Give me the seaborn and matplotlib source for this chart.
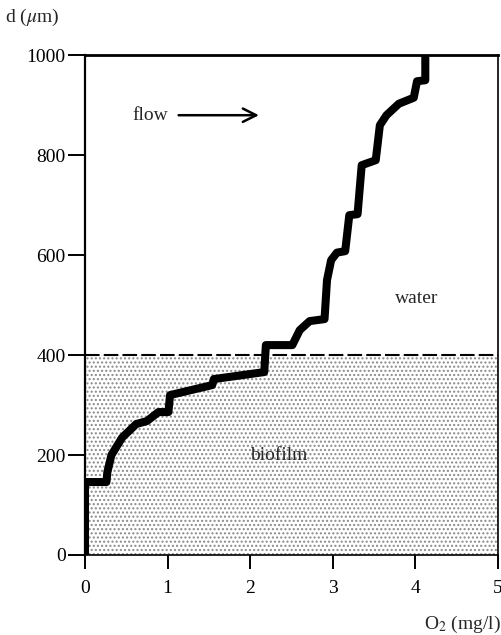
import matplotlib
matplotlib.use("Agg")
import matplotlib.pyplot as plt
import seaborn as sns
import pandas as pd

# Oxygen profile (O2 in mg/l vs depth d in µm)
o2 = [0.0, 0.0, 0.26, 0.27, 0.32, 0.45, 0.62, 0.75, 0.89, 1.01, 1.03, 1.54, 1.56,
      2.17, 2.19, 2.51, 2.60, 2.72, 2.90, 2.93, 2.98, 3.05, 3.15, 3.20, 3.30, 3.35,
      3.52, 3.57, 3.65, 3.80, 3.98, 4.02, 4.12, 4.12]
depth = [0, 146, 146, 165, 200, 235, 262, 268, 286, 286, 320, 340, 352,
         366, 420, 420, 450, 468, 472, 550, 590, 605, 608, 680, 682, 780,
         790, 860, 880, 903, 915, 948, 950, 1000]

biofilm_top = 400
x_ticks = [0, 1, 2, 3, 4, 5]
y_ticks = [0, 200, 400, 600, 800, 1000]

df = pd.DataFrame({"O2": o2, "d": depth})

sns.set_style("ticks")
plt.rcParams["font.family"] = ["Liberation Serif", "DejaVu Serif"]
plt.rcParams["mathtext.fontset"] = "stix"

fig = plt.figure(figsize=(5.02, 6.35), dpi=100)
ax = fig.add_axes([0.1693, 0.126, 0.8227, 0.787])

# stippled biofilm region
ax.fill_between([0, 5], 0, biofilm_top, facecolor="white", edgecolor="#8a8a8a",
                hatch="....", linewidth=0, zorder=0)
ax.axhline(biofilm_top, color="black", linestyle=(0, (7, 2)), linewidth=1.5, zorder=1)

sns.lineplot(data=df, x="O2", y="d", sort=False, estimator=None, color="black",
             linewidth=5.8, ax=ax, zorder=3)

ax.set_xlim(0, 5)
ax.set_ylim(0, 1000)
ax.set_xticks(x_ticks)
ax.set_yticks(y_ticks)
ax.set_xticklabels([str(t) for t in x_ticks])
ax.set_yticklabels([str(t) for t in y_ticks])
ax.tick_params(axis="both", direction="out", width=1.4, labelsize=14,
               color="black", labelcolor="black")
ax.tick_params(axis="x", length=10, pad=8)
ax.tick_params(axis="y", length=12, pad=2)
ax.set_xlabel("")
ax.set_ylabel("")
for s in ax.spines.values():
    s.set_color("black")
    s.set_linewidth(1.2)
ax.spines["top"].set_linewidth(2.0)
ax.spines["left"].set_linewidth(1.6)

ax.text(0.57, 880, "flow", fontsize=14, ha="left", va="center")
ax.annotate("", xy=(2.14, 880), xytext=(1.1, 880),
            arrowprops=dict(arrowstyle="->", color="black", lw=1.8, mutation_scale=24))
ax.text(3.75, 514, "water", fontsize=14, ha="left", va="center")
ax.text(2.0, 200, "biofilm", fontsize=14, ha="left", va="center")

fig.text(0.01, 0.972, r"d ($\mu$m)", fontsize=14, ha="left", va="center")
fig.text(0.998, 0.017, r"O$_2$ (mg/l)", fontsize=14, ha="right", va="center")

fig.savefig("out.png", dpi=100)
